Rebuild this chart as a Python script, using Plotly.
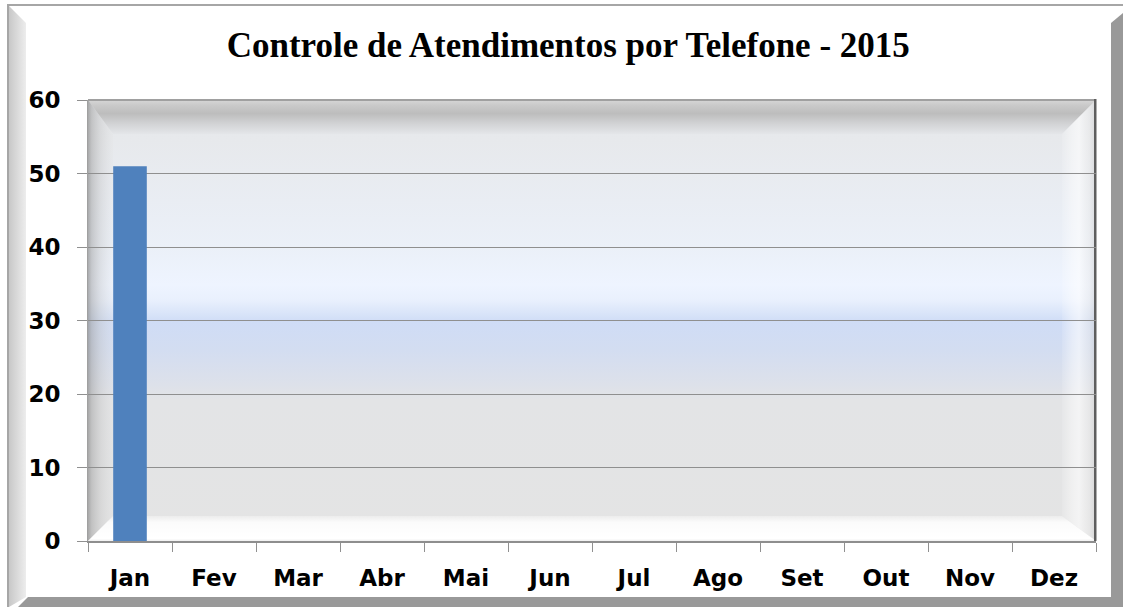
import base64
import plotly.graph_objects as go

# ---- data ----
months = ["Jan", "Fev", "Mar", "Abr", "Mai", "Jun", "Jul", "Ago", "Set", "Out", "Nov", "Dez"]
atendimentos = [51, None, None, None, None, None, None, None, None, None, None, None]
y_ticks = [0, 10, 20, 30, 40, 50, 60]
title_text = "Controle de Atendimentos por Telefone - 2015"

W, H = 1123, 607
L, R, T, B = 88, 1096, 100, 541  # plot area edges (px)

svg = f'''<svg xmlns="http://www.w3.org/2000/svg" width="{W}" height="{H}" viewBox="0 0 {W} {H}" preserveAspectRatio="none">
<defs>
<linearGradient id="main" gradientUnits="userSpaceOnUse" x1="0" y1="{T}" x2="0" y2="{B}">
<stop offset="0" stop-color="#e4e6e9"/>
<stop offset="0.09" stop-color="#e7e9ec"/>
<stop offset="0.166" stop-color="#e8ebf0"/>
<stop offset="0.333" stop-color="#ebf0f8"/>
<stop offset="0.42" stop-color="#eef4ff"/>
<stop offset="0.454" stop-color="#e9f0fd"/>
<stop offset="0.49" stop-color="#d6e2f8"/>
<stop offset="0.503" stop-color="#cfdcf6"/>
<stop offset="0.567" stop-color="#d3ddf1"/>
<stop offset="0.646" stop-color="#dde1ea"/>
<stop offset="0.68" stop-color="#e3e4e6"/>
<stop offset="1" stop-color="#e4e4e4"/>
</linearGradient>
<linearGradient id="topb" gradientUnits="userSpaceOnUse" x1="0" y1="{T}" x2="0" y2="{T+34}">
<stop offset="0" stop-color="#d6d6d6"/>
<stop offset="0.15" stop-color="#cacaca"/>
<stop offset="0.4" stop-color="#bdbdbd"/>
<stop offset="0.7" stop-color="#d2d3d5"/>
<stop offset="1" stop-color="#e4e6e9"/>
</linearGradient>
<linearGradient id="leftb" gradientUnits="userSpaceOnUse" x1="{L}" y1="0" x2="{L+25}" y2="0">
<stop offset="0" stop-color="rgb(140,140,140)" stop-opacity="0.7"/>
<stop offset="0.15" stop-color="rgb(165,165,165)" stop-opacity="0.55"/>
<stop offset="0.5" stop-color="rgb(195,195,195)" stop-opacity="0.4"/>
<stop offset="1" stop-color="rgb(225,225,225)" stop-opacity="0.2"/>
</linearGradient>
<linearGradient id="rightb" gradientUnits="userSpaceOnUse" x1="{R-34}" y1="0" x2="{R}" y2="0">
<stop offset="0" stop-color="#ffffff" stop-opacity="0.1"/>
<stop offset="0.3" stop-color="#ffffff" stop-opacity="0.45"/>
<stop offset="0.5" stop-color="#ffffff" stop-opacity="0.6"/>
<stop offset="0.8" stop-color="#ebebeb" stop-opacity="0.5"/>
<stop offset="1" stop-color="#c8c8c8" stop-opacity="0.5"/>
</linearGradient>
<linearGradient id="botb" gradientUnits="userSpaceOnUse" x1="0" y1="{B-25}" x2="0" y2="{B}">
<stop offset="0" stop-color="#ececec"/>
<stop offset="0.25" stop-color="#fbfbfb"/>
<stop offset="0.9" stop-color="#ffffff"/>
<stop offset="1" stop-color="#f0f0f0"/>
</linearGradient>
<linearGradient id="oleft" gradientUnits="userSpaceOnUse" x1="9" y1="0" x2="26" y2="0">
<stop offset="0" stop-color="#c8c8c8"/>
<stop offset="1" stop-color="#ededed"/>
</linearGradient>
</defs>
<rect x="0" y="0" width="{W}" height="{H}" fill="#ffffff"/>
<rect x="7" y="4" width="{W-7}" height="2" fill="#a6a6a6"/>
<rect x="7" y="4" width="2" height="{H-4}" fill="#a6a6a6"/>
<polygon points="9,6 26,23 26,597 9,607" fill="url(#oleft)"/>
<polygon points="1111,23 1123,13 1123,607 1111,607" fill="#999999"/>
<polygon points="18,607 28,597 1123,597 1123,607" fill="#999999"/>
<rect x="{L}" y="{T}" width="{R-L}" height="{B-T}" fill="url(#main)"/>
<polygon points="{L},{T} {R},{T} {R-34},{T+34} {L+25},{T+34}" fill="url(#topb)"/>
<polygon points="{L},{T} {L+25},{T+34} {L+25},{B-25} {L},{B}" fill="url(#leftb)"/>
<polygon points="{R},{T} {R-34},{T+34} {R-34},{B-25} {R},{B}" fill="url(#rightb)"/>
<polygon points="{L},{B} {L+25},{B-25} {R-34},{B-25} {R},{B}" fill="url(#botb)"/>
<rect x="{L}" y="{T-1}" width="{R-L}" height="2" fill="#a0a0a0"/>
<rect x="{R-2}" y="{T-1}" width="2.5" height="{B-T+1}" fill="#5e5e5e"/>
</svg>'''
uri = "data:image/svg+xml;base64," + base64.b64encode(svg.encode()).decode()

fig = go.Figure()
fig.add_trace(go.Bar(x=months, y=atendimentos, marker=dict(color="#4F81BD", line=dict(width=0)),
                     showlegend=False))

pw, ph = R - L, B - T
fig.update_layout(
    width=W, height=H, autosize=False,
    margin=dict(l=L, r=W - R, t=T, b=H - B, pad=0),
    paper_bgcolor="#ffffff", plot_bgcolor="rgba(0,0,0,0)",
    bargap=0.6,
    title=dict(text=title_text, x=0.506, xanchor="center", xref="container",
               y=1 - 45 / H, yanchor="middle", yref="container",
               font=dict(family="Liberation Serif", size=35, color="#000000", weight="bold")),
    images=[dict(source=uri, xref="paper", yref="paper", x=-L / pw, y=1 + T / ph,
                 sizex=W / pw, sizey=H / ph, xanchor="left", yanchor="top",
                 sizing="stretch", layer="below")],
    xaxis=dict(type="category", categoryorder="array", categoryarray=months,
               range=[-0.5, 11.5], automargin=False,
               showline=True, linecolor="#8e8e8e", linewidth=2,
               ticks="outside", ticklen=9, tickcolor="#909090", tickwidth=1,
               tickson="boundaries", ticklabelstandoff=15,
               showgrid=False, zeroline=False,
               tickfont=dict(family="DejaVu Sans", size=23, color="#000000", weight="bold")),
    yaxis=dict(range=[0, 60], tickvals=y_ticks, automargin=False,
               showline=True, linecolor="#a0a0a0", linewidth=1,
               ticks="outside", ticklen=10, tickcolor="#909090", tickwidth=1,
               showgrid=True, gridcolor="#8f8f8f", gridwidth=1, zeroline=False,
               ticklabelstandoff=12,
               tickfont=dict(family="DejaVu Sans", size=23, color="#000000", weight="bold")),
)

fig.write_html("out.html", config={"displayModeBar": False},
               post_script="document.body.style.margin='0';document.body.style.overflow='hidden';")
